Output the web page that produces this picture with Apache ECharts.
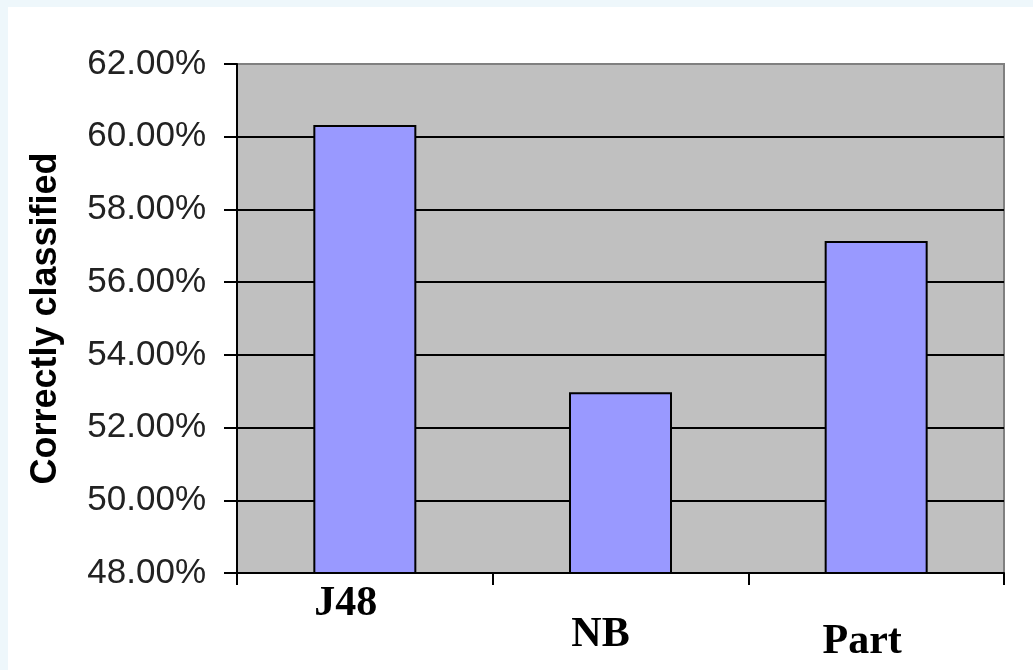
<!DOCTYPE html>
<html>
<head>
<meta charset="utf-8">
<script src="https://cdn.jsdelivr.net/npm/echarts@6/dist/echarts.min.js"></script>
<style>
  html, body { margin: 0; padding: 0; background: #eef7fb; }
  #chart { position: absolute; left: 8px; top: 7px; width: 1025px; height: 663px; background: #ffffff; }
</style>
</head>
<body>
<div id="chart"></div>
<script>
// Classifier accuracy (percent correctly classified)
const categories = ['J48', 'NB', 'Part'];
const accuracy = [60.32, 52.97, 57.13];
const yTicks = { min: 48, max: 62, step: 2 };
// rich-text style name used for each category label
const labelStyleOf = { J48: 'a', NB: 'b', Part: 'c' };

const catFont = { fontFamily: 'Liberation Serif', fontWeight: 'bold', fontSize: 42, color: '#000' };

const chart = echarts.init(document.getElementById('chart'));
chart.setOption({
  animation: false,
  grid: {
    left: 229, top: 57, width: 767, height: 509,
    outerBoundsMode: 'none',
    show: true, backgroundColor: '#c0c0c0', borderColor: '#808080', borderWidth: 2
  },
  xAxis: {
    type: 'category',
    data: categories,
    axisLine: { show: true, lineStyle: { color: '#000', width: 2 } },
    axisTick: { show: true, length: 12, lineStyle: { color: '#000', width: 2 } },
    axisLabel: {
      margin: 8,
      formatter: v => '{' + labelStyleOf[v] + '|' + v + '}',
      rich: {
        a: Object.assign({ padding: [2, 38, 0, 0] }, catFont),
        b: Object.assign({ padding: [33, 40, 0, 0] }, catFont),
        c: Object.assign({ padding: [40, 28, 0, 0] }, catFont)
      }
    },
    splitLine: { show: false }
  },
  yAxis: {
    type: 'value',
    min: yTicks.min, max: yTicks.max, interval: yTicks.step,
    name: 'Correctly classified',
    nameLocation: 'middle',
    nameGap: 173,
    nameRotate: 90,
    nameTextStyle: { fontFamily: 'Liberation Sans', fontWeight: 'bold', fontSize: 36, color: '#000' },
    axisLine: { show: true, lineStyle: { color: '#000', width: 2 } },
    axisTick: { show: true, length: 13, lineStyle: { color: '#000', width: 2 } },
    axisLabel: {
      margin: 31,
      fontFamily: 'Liberation Sans', fontSize: 35, color: '#222',
      formatter: v => v.toFixed(2) + '%'
    },
    splitLine: { show: true, showMaxLine: false, lineStyle: { color: '#000', width: 2 } }
  },
  series: [{
    type: 'bar',
    data: accuracy,
    barWidth: 103,
    itemStyle: { color: '#9999ff', borderColor: '#000', borderWidth: 2 }
  }]
});
</script>
</body>
</html>
